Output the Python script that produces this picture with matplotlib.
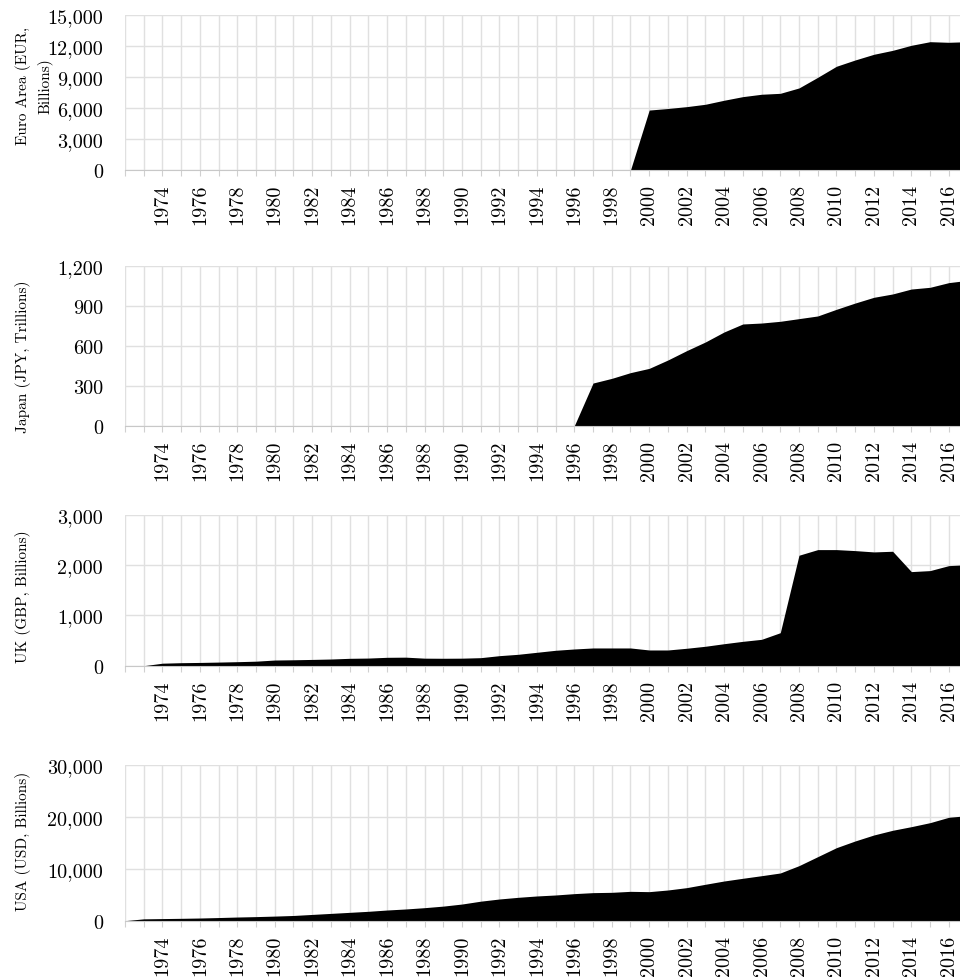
import matplotlib
matplotlib.use("Agg")
import matplotlib.pyplot as plt
from matplotlib.ticker import FuncFormatter
import numpy as np

plt.rcParams['font.family'] = 'cmr10'
plt.rcParams['axes.formatter.use_mathtext'] = True

years = np.arange(1972, 2018)

# Euro area, EUR billions (zeros before the euro)
euro = [0] * 28 + [5800, 5950, 6130, 6360, 6750, 7100, 7330, 7420, 7940, 8970,
                   10040, 10650, 11200, 11580, 12070, 12420, 12360, 12420]
# Japan, JPY trillions
japan = [0] * 25 + [320, 355, 398, 430, 493, 563, 628, 703, 763, 770, 783, 803,
                    823, 873, 920, 963, 988, 1025, 1038, 1073, 1090]
# UK, GBP billions
uk = [0, 0, 50, 60, 65, 72, 80, 90, 113, 118, 125, 133, 147, 152, 167, 170,
      150, 148, 150, 160, 200, 227, 267, 307, 333, 353, 353, 353, 313, 313,
      347, 387, 438, 485, 525, 657, 2199, 2311, 2311, 2291, 2265, 2278, 1873,
      1893, 1992, 2010]
# USA, USD billions
usa = [0, 350, 400, 450, 510, 600, 700, 780, 880, 1000, 1200, 1400, 1600,
       1800, 2050, 2250, 2500, 2800, 3200, 3750, 4170, 4490, 4750, 4940, 5200,
       5390, 5450, 5640, 5580, 5900, 6350, 7000, 7630, 8150, 8650, 9170, 10580,
       12310, 14040, 15330, 16480, 17380, 18080, 18850, 19880, 20200]

series = [euro, japan, uk, usa]
ylabels = ['Euro Area (EUR,\nBillions)', 'Japan (JPY, Trillions)',
           'UK (GBP, Billions)', 'USA (USD, Billions)']
ymaxes = [15000, 1200, 3000, 30000]
ysteps = [3000, 300, 1000, 10000]

# panel boxes: left, bottom, width, height (figure fractions)
boxes = [(0.1302, 0.8252, 0.8698, 0.1584),
         (0.1302, 0.5637, 0.8698, 0.1636),
         (0.1302, 0.3183, 0.8698, 0.1541),
         (0.1302, 0.0576, 0.8698, 0.1595)]
# vertical centre of each side label, in pixels from the top
label_y = [86, 357, 597, 841]

fig = plt.figure(figsize=(9.6, 9.78), dpi=100)

for vals, lab, ymax, step, box, ly in zip(series, ylabels, ymaxes, ysteps, boxes, label_y):
    ax = fig.add_axes(box)
    ax.fill_between(years, 0, vals, color='black', linewidth=0)
    ax.set_xlim(1972, 2016.6)
    ax.set_ylim(0, ymax)
    yt = np.arange(0, ymax + 1, step)
    ax.set_yticks(yt)
    ax.set_yticklabels([f'{int(v):,}' for v in yt], fontsize=14.5)
    xt = list(range(1972, 2017))
    ax.set_xticks(xt)
    ax.set_xticklabels([str(y) if (y % 2 == 0 and y >= 1974) else '' for y in xt],
                       rotation=90, fontsize=14.5)
    ax.set_axisbelow(True)
    ax.grid(True, color='#e0e0e0', linewidth=1)
    for s in ['top', 'right', 'left']:
        ax.spines[s].set_visible(False)
    ax.spines['bottom'].set_color('#c8c8c8')
    ax.tick_params(axis='x', length=4, color='#d0d0d0', pad=6)
    ax.tick_params(axis='y', length=0, pad=16)
    fig.text(15 / 960, 1 - ly / 978, lab, rotation=90, ha='left', va='center',
             fontsize=11, multialignment='center', linespacing=1.55)

fig.savefig('out.png', dpi=100)
